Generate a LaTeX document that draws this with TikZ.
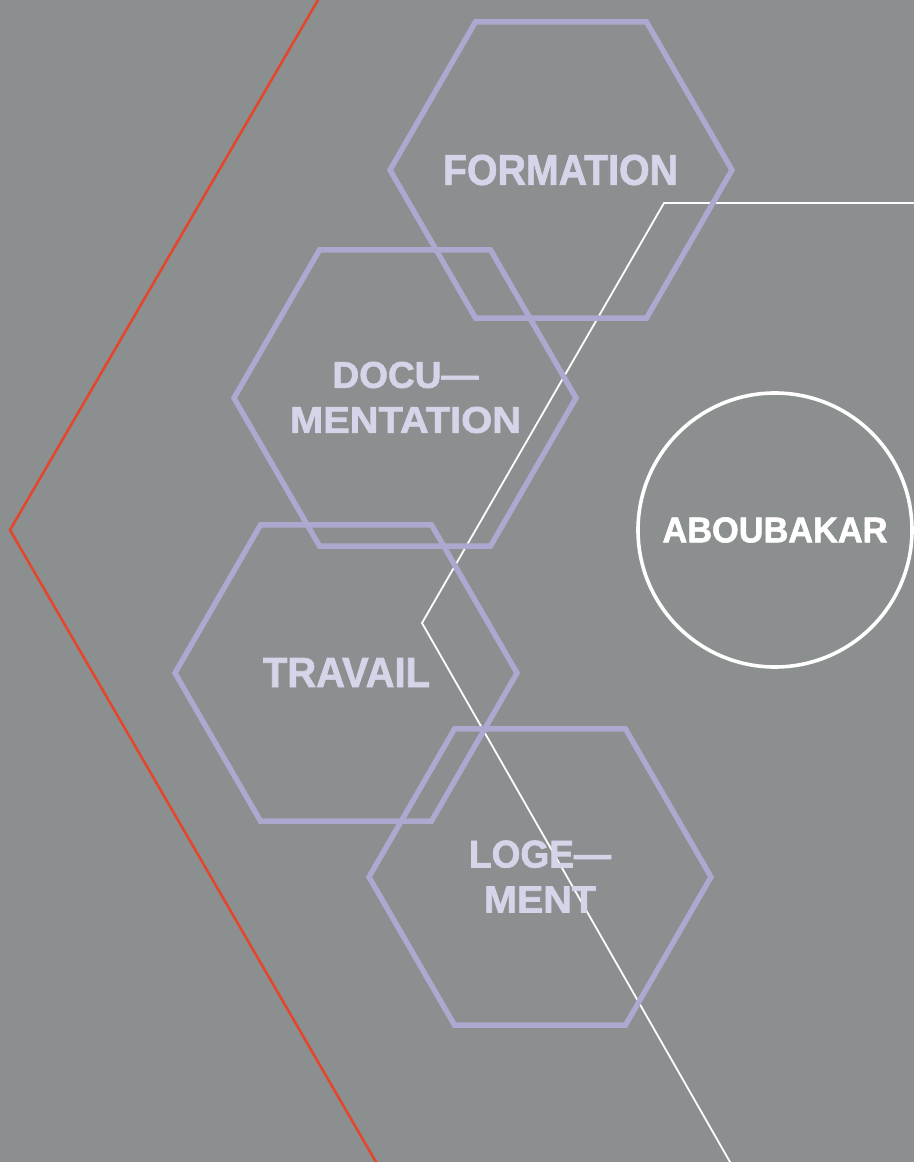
\documentclass[tikz,border=0pt]{standalone}
\usepackage{fontspec}
\usepackage{graphicx}
\setmainfont{Liberation Sans}[BoldFeatures={FakeBold=1.6}]
\usetikzlibrary{calc}
\definecolor{bgc}{HTML}{8C8F8F}
\definecolor{hexc}{HTML}{ABA9CF}
\definecolor{txtc}{HTML}{D6D4E9}
\definecolor{redc}{HTML}{E5452B}
\newcommand\fitword[3]{\resizebox{#1pt}{#2pt}{\bfseries #3}}
\newcommand\hexpath[1]{%
  \draw[hexline] ($(#1)+(171,0)$) -- ($(#1)+(85.5,-148.1)$) -- ($(#1)+(-85.5,-148.1)$)
    -- ($(#1)+(-171,0)$) -- ($(#1)+(-85.5,148.1)$) -- ($(#1)+(85.5,148.1)$) -- cycle;}
\tikzset{
  hexline/.style={draw=hexc, line width=5.4pt, line join=miter},
  hexlabel/.style={text=txtc, inner sep=0pt, align=center, font=\fontsize{40}{45}\selectfont},
  redline/.style={draw=redc, line width=2.5pt, line join=miter},
  whiteline/.style={draw=white, line width=1.8pt, line join=miter},
  circlenode/.style={circle, draw=white, line width=3.6pt, minimum size=274pt, inner sep=0pt, text=white, font=\fontsize{40}{45}\selectfont}
}
\begin{document}
\begin{tikzpicture}[x=1pt,y=-1pt]
\fill[bgc] (0,0) rectangle (914,1162);
\useasboundingbox (0,0) rectangle (914,1162);
% red chevron
\coordinate (r1) at (320.3,-4);
\coordinate (r2) at (10,530);
\coordinate (r3) at (378.3,1166);
\draw[redline] (r1) -- (r2) -- (r3);
% white line
\coordinate (w1) at (918,203);
\coordinate (w2) at (664,203);
\coordinate (w3) at (422,623);
\coordinate (w4) at (732.3,1166);
\draw[whiteline] (w1) -- (w2) -- (w3) -- (w4);
% hexagons
\coordinate (cf) at (561,170);
\coordinate (cd) at (405,398);
\coordinate (ct) at (346,673);
\coordinate (cl) at (540,877);
\hexpath{cf}
\hexpath{cd}
\hexpath{ct}
\hexpath{cl}
% labels
\node[hexlabel] (formation) at (560.5,170) {\fitword{235}{30}{FORMATION}};
\node[hexlabel] (documentation) at (405.5,397.5) {\fitword{146}{26}{DOCU—}\\\fitword{231}{26}{MENTATION}};
\node[hexlabel] (travail) at (346.5,672.5) {\fitword{167}{29}{TRAVAIL}};
\node[hexlabel] (logement) at (540,876.5) {\fitword{142}{27}{LOGE—}\\\fitword{112}{26}{MENT}};
% circle
\node[circlenode] (aboubakar) at (775,530) {\fitword{225}{25}{ABOUBAKAR}};
\end{tikzpicture}
\end{document}
